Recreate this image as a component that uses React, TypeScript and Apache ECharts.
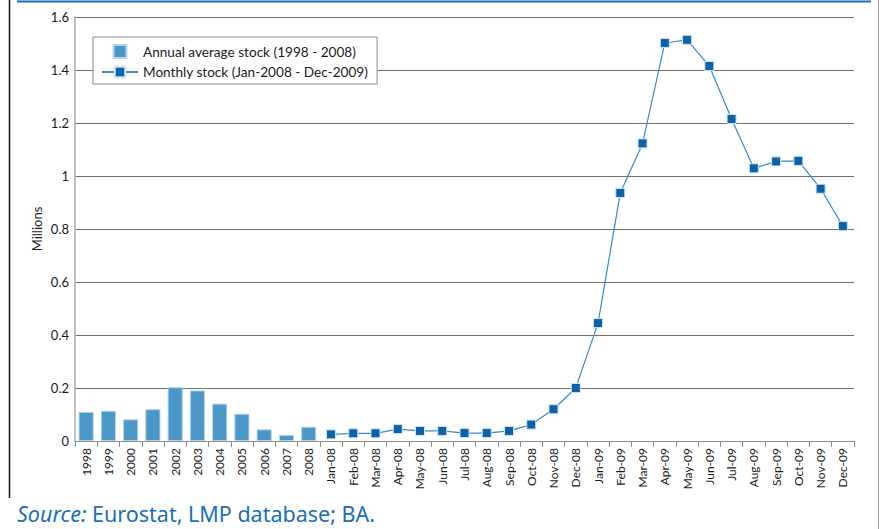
import React, { useEffect, useRef } from "react";
import * as echarts from "echarts";

const categories = [
  "1998", "1999", "2000", "2001", "2002", "2003", "2004", "2005", "2006", "2007", "2008",
  "Jan-08", "Feb-08", "Mar-08", "Apr-08", "May-08", "Jun-08", "Jul-08", "Aug-08", "Sep-08", "Oct-08", "Nov-08", "Dec-08",
  "Jan-09", "Feb-09", "Mar-09", "Apr-09", "May-09", "Jun-09", "Jul-09", "Aug-09", "Sep-09", "Oct-09", "Nov-09", "Dec-09",
];

const annualAverage = [0.11, 0.114, 0.082, 0.12, 0.203, 0.191, 0.141, 0.103, 0.044, 0.023, 0.054];

const monthlyStock = [
  0.025, 0.029, 0.029, 0.045, 0.038, 0.038, 0.03, 0.03, 0.038, 0.062, 0.12, 0.2,
  0.445, 0.936, 1.123, 1.502, 1.514, 1.415, 1.215, 1.029, 1.055, 1.057, 0.952, 0.811,
];

const yTicks = { min: 0, max: 1.6, interval: 0.2 };

const barName = "Annual average stock (1998 - 2008)";
const lineName = "Monthly stock (Jan-2008 - Dec-2009)";

export default function App() {
  const ref = useRef<HTMLDivElement>(null);
  useEffect(() => {
    if (!ref.current) return;
    const chart = echarts.init(ref.current, null, { renderer: "svg" });
    const barData = categories.map((_, i) => (i < annualAverage.length ? annualAverage[i] : null));
    const lineData = categories.map((_, i) =>
      i < annualAverage.length ? null : monthlyStock[i - annualAverage.length]
    );
    const font = "Lato, 'Noto Sans', sans-serif";
    chart.setOption({
      animation: false,
      backgroundColor: "#ffffff",
      textStyle: { fontFamily: font },
      grid: { left: 75, right: 25, top: 17, bottom: 88, containLabel: false },
      legend: {
        orient: "vertical",
        left: 93,
        top: 37,
        padding: [7, 9, 5, 8],
        backgroundColor: "#ffffff",
        borderColor: "#8a8a8a",
        borderWidth: 1,
        itemWidth: 36,
        itemHeight: 13,
        itemGap: 6,
        textStyle: { fontSize: 13.6, color: "#1a1a1a", fontFamily: font, lineHeight: 14 },
        data: [
          { name: barName, icon: "path://M0,0h10v10h-10z" },
          { name: lineName },
        ],
      },
      xAxis: {
        type: "category",
        data: categories,
        boundaryGap: true,
        axisLine: { show: true, lineStyle: { color: "#8c8c8c", width: 1 } },
        axisTick: { show: true, length: 6, lineStyle: { color: "#8c8c8c" } },
        axisLabel: { rotate: 90, interval: 0, fontSize: 12, color: "#1a1a1a", margin: 7, fontFamily: font },
        splitLine: { show: false },
      },
      yAxis: {
        type: "value",
        min: yTicks.min,
        max: yTicks.max,
        interval: yTicks.interval,
        name: "Millions",
        nameLocation: "middle",
        nameGap: 32,
        nameMoveOverlap: false,
        nameTextStyle: { fontSize: 13, color: "#1a1a1a", fontFamily: font },
        axisLine: { show: true, lineStyle: { color: "#aaaaaa", width: 1.5 } },
        axisTick: { show: false },
        axisLabel: { fontSize: 13, color: "#1a1a1a", margin: 6, fontFamily: font },
        splitLine: { show: true, lineStyle: { color: "#6e6e6e", width: 1 } },
      },
      series: [
        {
          name: barName,
          type: "bar",
          data: barData,
          barWidth: "68%",
          itemStyle: { color: "#4b97c8", borderColor: "#b4d5eb", borderWidth: 1 },
        },
        {
          name: lineName,
          type: "line",
          data: lineData,
          symbol: "rect",
          symbolSize: 9,
          showSymbol: true,
          lineStyle: { color: "#3a8bca", width: 1.2 },
          itemStyle: { color: "#0b62a8", borderColor: "#cfe3f2", borderWidth: 1 },
          z: 3,
        },
      ],
      graphic: [
        { type: "line", shape: { x1: 17, y1: 1.5, x2: 871, y2: 1.5 }, style: { stroke: "#1b6db3", lineWidth: 2 } },
        { type: "line", shape: { x1: 9.5, y1: 0, x2: 9.5, y2: 498 }, style: { stroke: "#111111", lineWidth: 1.5 } },
        { type: "line", shape: { x1: 878.5, y1: 0, x2: 878.5, y2: 529 }, style: { stroke: "#9a9a9a", lineWidth: 1 } },
        {
          type: "text",
          x: 17,
          y: 513,
          style: {
            text: "{i|Source:} Eurostat, LMP database; BA.",
            fill: "#1a6fb5",
            font: "21.5px 'Noto Sans', sans-serif",
            verticalAlign: "middle",
            rich: {
              i: { fontStyle: "italic", fontSize: 21.5, fill: "#1a6fb5", fontFamily: "'Noto Sans', sans-serif" },
            },
          },
        },
      ],
    });
    return () => chart.dispose();
  }, []);
  return (
    <div
      ref={ref}
      style={{ position: "fixed", left: 0, top: 0, width: 879, height: 529, background: "#fff" }}
    />
  );
}
